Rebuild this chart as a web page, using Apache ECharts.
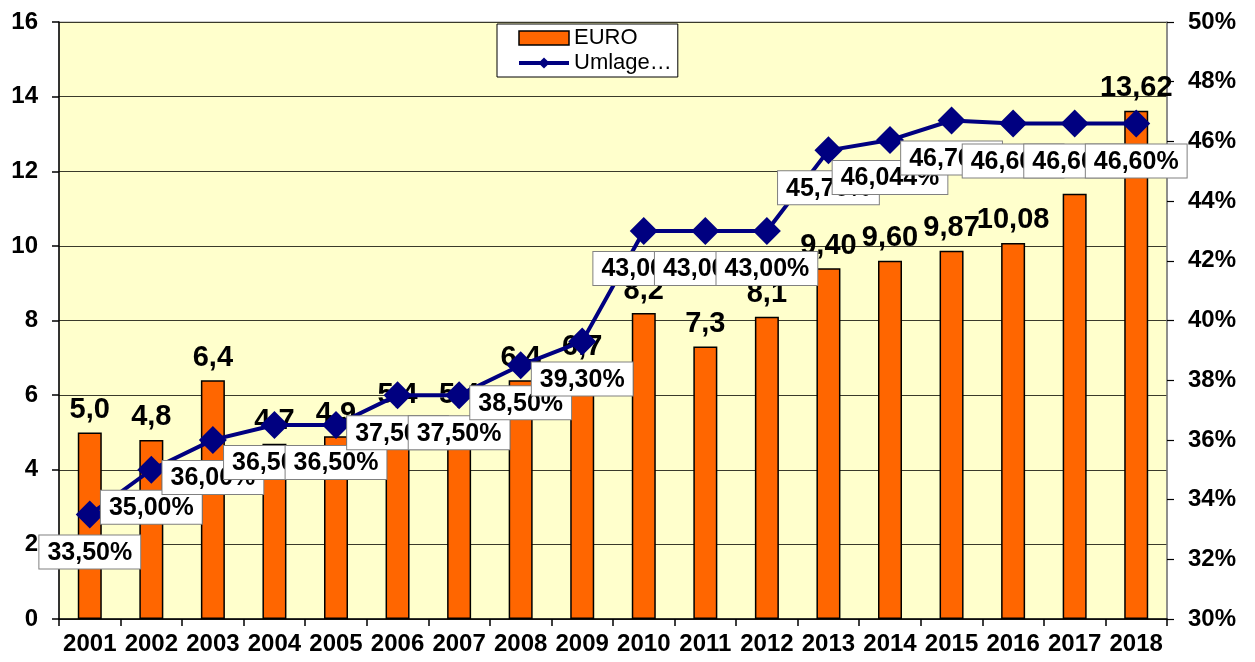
<!DOCTYPE html>
<html>
<head>
<meta charset="utf-8">
<script src="https://cdn.jsdelivr.net/npm/echarts@6/dist/echarts.min.js"></script>
<style>
  html, body { margin: 0; padding: 0; background: #ffffff; }
  #chart { width: 1255px; height: 662px; }
</style>
</head>
<body>
<div id="chart"></div>
<script>
// Jahre (Kategorien)
const years = ['2001','2002','2003','2004','2005','2006','2007','2008','2009','2010','2011','2012','2013','2014','2015','2016','2017','2018'];
// Beitrag in EURO
const euro = [5.0, 4.8, 6.4, 4.7, 4.9, 5.4, 5.4, 6.4, 6.7, 8.2, 7.3, 8.1, 9.40, 9.60, 9.87, 10.08, 11.4, 13.62];
// Nachkommastellen der Beschriftung (null = keine Beschriftung)
const euroDecimals = [1, 1, 1, 1, 1, 1, 1, 1, 1, 1, 1, 1, 2, 2, 2, 2, null, 2];
// Umlage in Prozent
const umlage = [33.5, 35.0, 36.0, 36.5, 36.5, 37.5, 37.5, 38.5, 39.3, 43.0, 43.0, 43.0, 45.7, 46.044, 46.7, 46.6, 46.6, 46.6];
// Achsenbeschriftungen
const leftTicks = { min: 0, max: 16, step: 2 };
const rightTicks = { min: 30, max: 50, step: 2 };

const FONT = "'Liberation Sans', Arial, sans-serif";

function fmtComma(v, d) { return v.toFixed(d).replace('.', ','); }
function fmtPercent(v) {
  let s = v.toFixed(2);
  if (parseFloat(s) !== v) s = String(v);
  return s.replace('.', ',') + '%';
}

const barData = euro.map((v, i) => ({
  value: v,
  label: euroDecimals[i] === null ? { show: false } : { show: true, formatter: fmtComma(v, euroDecimals[i]) }
}));

const chart = echarts.init(document.getElementById('chart'), null, { renderer: 'canvas' });

chart.setOption({
  animation: false,
  backgroundColor: '#ffffff',
  textStyle: { fontFamily: FONT },
  grid: {
    left: 59, right: 88, top: 22, bottom: 43,
    show: true, backgroundColor: '#FFFFCC', borderColor: '#9a9a9a', borderWidth: 1
  },
  legend: {
    left: 497, top: 24,
    orient: 'vertical',
    itemWidth: 50, itemHeight: 14, itemGap: 3,
    backgroundColor: '#ffffff', borderColor: '#000000', borderWidth: 1,
    padding: [3, 6, 3, 20],
    textStyle: { fontFamily: FONT, fontSize: 22, color: '#000' },
    data: [
      { name: 'EURO', icon: 'rect', itemStyle: { color: '#FF6600', borderColor: '#000', borderWidth: 1.5 } },
      { name: 'Umlage…', lineStyle: { width: 4, color: '#000080' } }
    ]
  },
  xAxis: {
    type: 'category',
    data: years,
    boundaryGap: true,
    axisLine: { lineStyle: { color: '#000', width: 1.5 } },
    axisTick: { show: true, length: 7, lineStyle: { color: '#000', width: 1.5 } },
    axisLabel: {
      interval: 0,
      color: '#000', fontSize: 24, fontWeight: 'bold', margin: 13, fontFamily: FONT
    }
  },
  yAxis: [
    {
      type: 'value', min: leftTicks.min, max: leftTicks.max, interval: leftTicks.step,
      axisLine: { show: true, lineStyle: { color: '#000', width: 1.5 } },
      axisTick: { show: true, length: 7, lineStyle: { color: '#000', width: 1.5 } },
      splitLine: { show: true, lineStyle: { color: '#3a3a2a', width: 1 } },
      axisLabel: { color: '#000', fontSize: 24, fontWeight: 'bold', margin: 21, fontFamily: FONT }
    },
    {
      type: 'value', min: rightTicks.min, max: rightTicks.max, interval: rightTicks.step,
      position: 'right',
      axisLine: { show: true, lineStyle: { color: '#7a7a7a', width: 1.5 } },
      axisTick: { show: true, length: 7, lineStyle: { color: '#000', width: 1.2 } },
      splitLine: { show: false },
      axisLabel: { color: '#000', fontSize: 24, fontWeight: 'bold', margin: 21, formatter: '{value}%', fontFamily: FONT }
    }
  ],
  series: [
    {
      name: 'EURO',
      type: 'bar',
      yAxisIndex: 0,
      barWidth: 24,
      z: 2,
      itemStyle: { color: '#FF6600', borderColor: '#000', borderWidth: 1.5 },
      label: {
        show: true, position: 'top', distance: 8,
        color: '#000', fontSize: 29, fontWeight: 'bold', fontFamily: FONT
      },
      data: barData
    },
    {
      name: 'Umlage…',
      type: 'line',
      yAxisIndex: 1,
      z: 3,
      symbol: 'diamond',
      symbolSize: 28,
      lineStyle: { color: '#000080', width: 4 },
      itemStyle: { color: '#000080' },
      label: {
        show: true, position: 'bottom', distance: 7,
        formatter: p => fmtPercent(p.value),
        color: '#000', fontSize: 25, fontWeight: 'bold', fontFamily: FONT,
        backgroundColor: '#ffffff', borderColor: '#808080', borderWidth: 1,
        padding: [5, 8, 3, 8]
      },
      data: umlage
    }
  ]
});
</script>
</body>
</html>
